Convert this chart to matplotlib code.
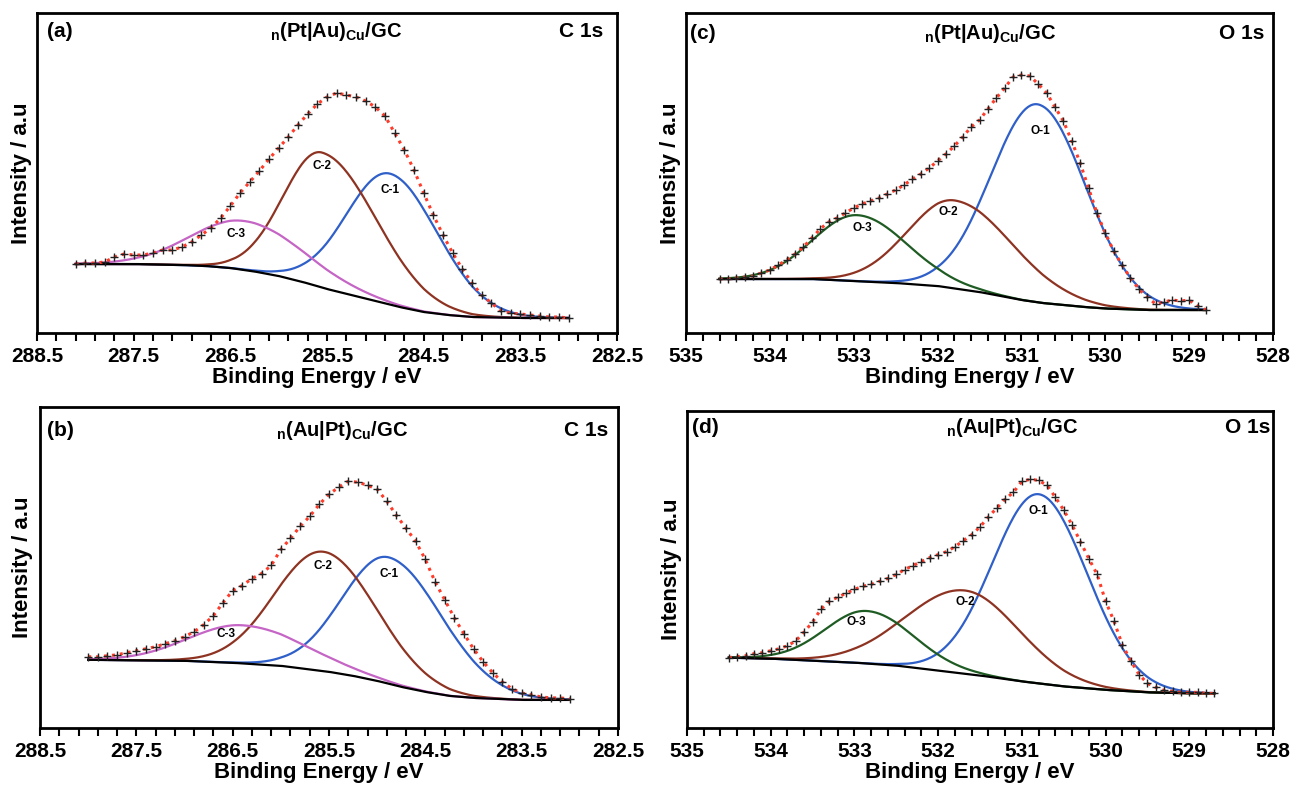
import numpy as np
import matplotlib
matplotlib.use("Agg")
import matplotlib.pyplot as plt

plt.rcParams['font.family'] = ['Liberation Sans', 'DejaVu Sans']
plt.rcParams['font.weight'] = 'bold'
plt.rcParams['mathtext.fontset'] = 'custom'
plt.rcParams['mathtext.bf'] = 'Liberation Sans:bold'
plt.rcParams['mathtext.rm'] = 'Liberation Sans:bold'
plt.rcParams['mathtext.default'] = 'bf'

# ---------------------------
# Data (intensity in a.u.)
# ---------------------------
# (a) C 1s of n(Pt|Au)Cu/GC, measured every 0.1 eV from 288.1 to 283.0
a_range = (288.1, 283.0)
a_meas = [69, 70, 70, 71, 76, 79, 78, 78, 80, 83, 83, 86,
          91, 98, 105, 115, 127, 140, 151, 162, 174, 185,
          196, 208, 219, 229, 236, 240, 238, 236, 232, 226,
          217, 200, 183, 163, 140, 118, 98, 80, 64, 50,
          38, 30, 22, 20, 19, 18, 17, 16, 16, 15]
a_bg_e = [288.1, 287.5, 287.0, 286.75, 286.5, 286.25, 286.0, 285.75, 285.5,
          285.25, 285.0, 284.75, 284.5, 284.25, 284.0, 283.5, 283.0]
a_bg = [69, 69, 68, 67, 65, 61.5, 57, 51, 44, 38, 32, 26, 21, 18, 16, 15, 15]
a_names = ["C-1", "C-2", "C-3"]
a_center = [284.85, 285.55, 286.35]
a_height = [131, 135, 49]
a_wid_hi = [0.45, 0.40, 0.55]   # width on the high binding energy side
a_wid_lo = [0.50, 0.56, 0.62]   # width on the low binding energy side

# (b) C 1s of n(Au|Pt)Cu/GC, 288.0 to 283.0
b_range = (288.0, 283.0)
b_meas = [71, 71, 72, 73, 75, 77, 79, 81, 84, 87, 91,
          96, 103, 112, 125, 137, 142, 149, 154, 162, 178,
          189, 201, 211, 223, 233, 240, 246, 245, 242, 238,
          226, 212, 199, 186, 168, 146, 128, 110, 94, 79,
          66, 55, 46, 39, 35, 33, 31, 30, 30, 29]
b_bg_e = [288.0, 287.0, 286.5, 286.0, 285.75, 285.5, 285.25, 285.0, 284.75,
          284.5, 284.25, 284.0, 283.5, 283.0]
b_bg = [68, 67, 65, 62, 59, 56, 52, 47, 41, 36, 32, 30, 28, 28]
b_names = ["C-1", "C-2", "C-3"]
b_center = [284.88, 285.56, 286.40]
b_height = [126, 119, 38]
b_wid_hi = [0.48, 0.50, 0.55]
b_wid_lo = [0.56, 0.55, 0.65]

# (c) O 1s of n(Pt|Au)Cu/GC, 534.6 to 528.8
c_range = (534.6, 528.8)
c_meas = [54, 54, 55, 56, 57, 60, 63,
          68, 73, 79, 86, 95, 104, 111, 115, 120, 125,
          129, 132, 135, 139, 143, 148, 154, 159, 165, 172,
          179, 187, 196, 206, 213, 224, 235, 245, 256, 258,
          257, 249, 240, 226, 212, 192, 170, 145, 120, 100,
          82, 68, 55, 44, 36, 29, 31, 33, 32, 33,
          27, 23]
c_bg_e = [534.6, 534.0, 533.5, 533.0, 532.5, 532.0, 531.75, 531.5, 531.25,
          531.0, 530.75, 530.5, 530.25, 530.0, 529.5, 528.8]
c_bg = [54, 54, 54, 52, 50, 47, 44, 41, 37, 33, 30, 28, 26, 24.5, 23, 23]
c_names = ["O-1", "O-2", "O-3"]
c_center = [530.81, 531.80, 532.96]
c_height = [198, 88, 66]
c_wid_hi = [0.55, 0.55, 0.52]
c_wid_lo = [0.58, 0.70, 0.59]

# (d) O 1s of n(Au|Pt)Cu/GC, 534.5 to 528.7
d_range = (534.5, 528.7)
d_meas = [71, 72, 73, 75, 76, 78,
          80, 83, 88, 97, 107, 120, 128, 132, 136, 140,
          143, 145, 148, 151, 155, 160, 164, 168, 172, 175,
          178, 183, 189, 195, 203, 213, 222, 231, 238, 249,
          251, 250, 245, 233, 220, 205, 188, 171, 155, 128,
          108, 84, 68, 54, 45, 41, 38, 37, 36, 36,
          36, 35, 35]
d_bg_e = [534.5, 534.0, 533.5, 533.0, 532.5, 532.0, 531.5, 531.0, 530.5,
          530.0, 529.5, 529.0, 528.7]
d_bg = [71, 70, 68, 66, 63, 58, 53, 47, 42, 38.5, 36, 35, 35]
d_names = ["O-1", "O-2", "O-3"]
d_center = [530.80, 531.68, 532.85]
d_height = [191, 84, 53]
d_wid_hi = [0.55, 0.70, 0.50]
d_wid_lo = [0.58, 0.65, 0.55]

C_COLORS = ["#2f5fc8", "#8e3322", "#c565c5"]
O_COLORS = ["#2f5fc8", "#8e3322", "#1f5c23"]


def peak(e, c, h, w_hi, w_lo):
    w = np.where(e >= c, w_hi, w_lo)
    return h * np.exp(-0.5 * ((e - c) / w) ** 2)


W, H = 1292, 794
fig = plt.figure(figsize=(W / 100, H / 100), dpi=100)


def make_axes(x0, y0, x1, y1):
    return fig.add_axes([x0 / W, 1 - y1 / H, (x1 - x0) / W, (y1 - y0) / H])


def draw_panel(ax, rng, meas, bg_e, bg, names, center, height, w_hi, w_lo,
               colors, xlim, ticks, tick_labels, letter, sample, core,
               lab_off, txt):
    energy = np.linspace(rng[0], rng[1], len(meas))
    e_fine = np.linspace(rng[0], rng[1], 400)
    # background is listed from high to low energy; np.interp needs ascending
    base = np.interp(e_fine, bg_e[::-1], bg[::-1])
    for i in range(len(names)):
        p = peak(e_fine, center[i], height[i], w_hi[i], w_lo[i])
        ax.plot(e_fine, base + p, color=colors[i], lw=1.6, zorder=3)
    ax.plot(e_fine, base, color="black", lw=1.6, zorder=3)
    # fitted envelope, which lies on the measured points
    ax.plot(energy, meas, color="#ff3b2a", lw=2.2, ls=(0, (1, 1.6)), zorder=4)
    ax.plot(energy, meas, ls="none", marker="+", ms=5.5, mew=1.0,
            color="#222222", zorder=5)

    # peak labels
    for i in range(len(names)):
        b_c = np.interp(center[i], bg_e[::-1], bg[::-1])
        ax.annotate(names[i], (center[i], b_c + height[i]),
                    xytext=lab_off[i], textcoords="offset points",
                    ha="center", va="center", fontsize=8.5,
                    fontweight="bold", zorder=6)

    ax.set_xlim(*xlim)
    ax.set_ylim(0, 320)
    ax.set_xticks(ticks)
    ax.set_xticklabels(tick_labels)
    ax.set_xticks(np.linspace(xlim[0], xlim[1], int(round(abs(xlim[0] - xlim[1]) / 0.2)) + 1),
                  minor=True)
    ax.set_yticks([])
    ax.tick_params(axis="x", which="both", direction="out", length=6,
                   width=1.5, labelsize=15, pad=4, top=False)
    for lab in ax.get_xticklabels():
        lab.set_fontweight("bold")
    for s in ax.spines.values():
        s.set_linewidth(2.0)

    ax.text(txt["letter_x"], txt["top_y"], letter, transform=ax.transAxes,
            fontsize=15, fontweight="bold", va="baseline", ha="left")
    ax.text(txt["title_x"], txt["top_y"], sample, transform=ax.transAxes,
            fontsize=14.5, fontweight="bold", va="baseline", ha="center")
    ax.text(txt["core_x"], txt["top_y"], core, transform=ax.transAxes,
            fontsize=15, fontweight="bold", va="baseline", ha="right")
    ax.text(txt["ylab_x"], 0.5, "Intensity / a.u", transform=ax.transAxes,
            fontsize=16, fontweight="bold", rotation=90, va="center", ha="center")
    ax.text(txt["xlab_x"], -0.14, "Binding Energy / eV", transform=ax.transAxes,
            fontsize=16, fontweight="bold", va="center", ha="center")


c_ticks = [288.5, 287.5, 286.5, 285.5, 284.5, 283.5, 282.5]
c_tick_labels = ["288.5", "287.5", "286.5", "285.5", "284.5", "283.5", "282.5"]
o_ticks = [535, 534, 533, 532, 531, 530, 529, 528]
o_tick_labels = ["535", "534", "533", "532", "531", "530", "529", "528"]

pt_au = r"$_{n}$(Pt|Au)$_{Cu}$/GC"
au_pt = r"$_{n}$(Au|Pt)$_{Cu}$/GC"

ax_a = make_axes(37, 13, 617, 333)
draw_panel(ax_a, a_range, a_meas, a_bg_e, a_bg, a_names, a_center, a_height,
           a_wid_hi, a_wid_lo, C_COLORS, (288.5, 282.5), c_ticks, c_tick_labels,
           "(a)", pt_au, "C 1s", [(0, -12), (0, -10), (-6, -9)],
           dict(letter_x=0.017, title_x=0.516, core_x=0.976, top_y=0.925,
                ylab_x=-0.026, xlab_x=0.483))

ax_b = make_axes(40, 407, 618, 728)
draw_panel(ax_b, b_range, b_meas, b_bg_e, b_bg, b_names, b_center, b_height,
           b_wid_hi, b_wid_lo, C_COLORS, (288.5, 282.5), c_ticks, c_tick_labels,
           "(b)", au_pt, "C 1s", [(0, -12), (0, -10), (-11.5, -6)],
           dict(letter_x=0.012, title_x=0.522, core_x=0.983, top_y=0.91,
                ylab_x=-0.031, xlab_x=0.483))

ax_c = make_axes(686, 13, 1273, 333)
draw_panel(ax_c, c_range, c_meas, c_bg_e, c_bg, c_names, c_center, c_height,
           c_wid_hi, c_wid_lo, O_COLORS, (535, 528), o_ticks, o_tick_labels,
           "(c)", pt_au, "O 1s", [(2, -19), (-4, -8), (4, -9)],
           dict(letter_x=0.006, title_x=0.518, core_x=0.986, top_y=0.92,
                ylab_x=-0.027, xlab_x=0.483))

ax_d = make_axes(687, 411, 1273, 728)
draw_panel(ax_d, d_range, d_meas, d_bg_e, d_bg, d_names, d_center, d_height,
           d_wid_hi, d_wid_lo, O_COLORS, (535, 528), o_ticks, o_tick_labels,
           "(d)", au_pt, "O 1s", [(0, -12), (0, -8), (-8, -8)],
           dict(letter_x=0.009, title_x=0.555, core_x=0.995, top_y=0.93,
                ylab_x=-0.027, xlab_x=0.483))

fig.savefig("out.png", dpi=100, facecolor="white")
